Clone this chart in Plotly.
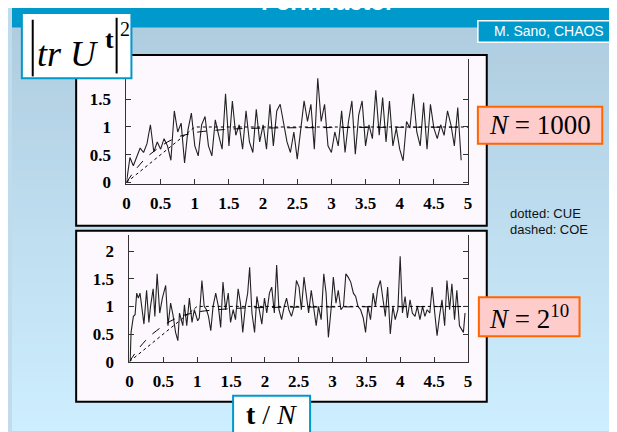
import plotly.graph_objects as go

W, H = 617, 432

# ---------------- data ----------------
# panel 1 (N = 1000): |tr U^t|^2 sampled every 0.05 in t/N
p1_dt = 0.05
p1_vals = [0.00, 0.45, 0.30, 0.48, 0.62, 0.54, 0.70, 1.04, 0.55, 0.73,
           0.60, 0.79, 0.66, 0.40, 1.29, 0.91, 1.07, 0.35, 0.95, 1.25,
           0.66, 0.48, 1.04, 1.19, 0.66, 0.48, 1.13, 0.85, 0.60, 1.60,
           0.66, 1.47, 0.85, 1.04, 0.60, 1.29, 0.73, 0.54, 1.32, 0.73,
           1.04, 0.60, 1.41, 0.66, 1.29, 1.41, 1.10, 0.73, 0.54, 0.91,
           0.42, 0.91, 1.47, 1.10, 1.41, 0.60, 1.88, 1.10, 1.41, 0.66,
           0.54, 0.91, 0.66, 1.29, 0.54, 1.10, 1.47, 0.51, 1.22, 1.47,
           0.66, 1.04, 0.79, 1.66, 0.85, 1.53, 0.73, 1.47, 0.66, 0.98,
           0.60, 0.39, 1.10, 0.98, 1.60, 0.91, 0.66, 1.44, 0.60, 1.41,
           0.98, 0.79, 1.04, 0.85, 1.29, 1.04, 0.66, 1.35, 0.40]
p1_t = [round(i * p1_dt, 3) for i in range(len(p1_vals))]

# panel 2 (N = 2^10)
p2_t = [0.010, 0.024, 0.058, 0.083, 0.107, 0.131, 0.156, 0.180, 0.214, 0.253,
        0.287, 0.311, 0.350, 0.375, 0.409, 0.447, 0.486, 0.535, 0.569, 0.608,
        0.642, 0.681, 0.715, 0.739, 0.788, 0.812, 0.846, 0.885, 0.924, 0.958,
        1.007, 1.031, 1.070, 1.104, 1.138, 1.167, 1.201, 1.235, 1.274, 1.313,
        1.347, 1.381, 1.420, 1.459, 1.493, 1.532, 1.566, 1.605, 1.639, 1.673,
        1.712, 1.746, 1.775, 1.809, 1.848, 1.882, 1.916, 1.955, 1.994, 2.028,
        2.067, 2.101, 2.140, 2.174, 2.208, 2.247, 2.286, 2.320, 2.354, 2.393,
        2.432, 2.466, 2.505, 2.539, 2.578, 2.612, 2.646, 2.685, 2.719, 2.758,
        2.792, 2.831, 2.870, 2.904, 2.938, 2.977, 3.011, 3.050, 3.084, 3.123,
        3.161, 3.196, 3.230, 3.268, 3.307, 3.341, 3.375, 3.414, 3.453, 3.487,
        3.521, 3.560, 3.599, 3.633, 3.667, 3.706, 3.745, 3.779, 3.813, 3.852,
        3.891, 3.925, 3.964, 3.998, 4.032, 4.071, 4.105, 4.144, 4.178, 4.217,
        4.251, 4.290, 4.329, 4.363, 4.397, 4.436, 4.470, 4.509, 4.543, 4.582,
        4.616, 4.655, 4.689, 4.728, 4.762, 4.801, 4.835, 4.874, 4.908, 4.932,
        4.956]
p2_vals = [0.00, 0.53, 0.82, 0.85, 1.24, 1.15, 1.24, 1.00, 0.68, 1.29,
           0.71, 1.00, 1.32, 0.82, 1.59, 0.88, 1.15, 1.38, 0.65, 1.06,
           0.85, 0.53, 0.38, 0.88, 0.65, 1.03, 0.65, 1.15, 0.71, 0.94,
           0.74, 0.79, 1.47, 1.00, 0.94, 0.82, 0.56, 1.00, 1.24, 1.00,
           0.62, 1.44, 0.94, 1.24, 0.71, 0.94, 0.76, 1.32, 1.06, 0.53,
           1.00, 1.24, 1.71, 0.88, 0.53, 1.18, 0.94, 0.68, 1.15, 0.88,
           1.24, 1.35, 0.88, 1.75, 0.94, 0.76, 1.00, 1.15, 0.94, 0.82,
           1.00, 1.47, 1.35, 0.94, 1.53, 1.24, 0.88, 1.29, 1.00, 0.65,
           1.00, 0.76, 1.59, 1.24, 0.44, 0.94, 1.53, 1.06, 1.29, 0.94,
           1.00, 1.59, 1.53, 1.44, 1.24, 1.18, 1.00, 0.94, 0.79, 0.53,
           1.00, 0.76, 1.24, 1.00, 1.32, 1.47, 1.12, 0.82, 1.35, 0.50,
           1.00, 0.76, 0.94, 1.91, 0.88, 1.18, 0.79, 1.12, 0.88, 0.82,
           1.00, 0.76, 1.00, 0.82, 0.94, 0.88, 1.35, 0.94, 0.47, 0.85,
           1.12, 0.65, 1.47, 0.94, 1.41, 0.76, 1.29, 0.65, 0.59, 0.53,
           0.88]

# theory curves
cue_t = [0, 1, 5]
cue_vals = [0, 1, 1]
coe_t = [0, 0.1, 0.2, 0.3, 0.4, 0.5, 0.6, 0.7, 0.8, 0.9, 1.0, 1.5, 2, 3, 4, 5]
coe_vals = [0, 0.18, 0.33, 0.46, 0.56, 0.65, 0.73, 0.79, 0.84, 0.87, 0.90,
            0.96, 0.98, 0.99, 0.995, 0.997]

x_ticks = [0, 0.5, 1, 1.5, 2, 2.5, 3, 3.5, 4, 4.5, 5]
x_ticktext = ['0', '0.5', '1', '1.5', '2', '2.5', '3', '3.5', '4', '4.5', '5']
y1_ticks = [0, 0.5, 1, 1.5]
y1_ticktext = ['0', '0.5', '1', '1.5']
y2_ticks = [0, 0.5, 1, 1.5, 2]
y2_ticktext = ['0', '0.5', '1', '1.5', '2']

# ---------------- helpers ----------------
def px(x):
    return x / W

def py(y):
    return 1 - y / H

fig = go.Figure()

line_col = '#222222'
for xa, ya, t, v in (('x', 'y', p1_t, p1_vals), ('x2', 'y2', p2_t, p2_vals)):
    fig.add_trace(go.Scatter(x=t, y=v, mode='lines', xaxis=xa, yaxis=ya,
                             line=dict(color=line_col, width=1.1), showlegend=False))
    fig.add_trace(go.Scatter(x=cue_t, y=cue_vals, mode='lines', xaxis=xa, yaxis=ya,
                             line=dict(color='black', width=1, dash='dot'), showlegend=False))
    fig.add_trace(go.Scatter(x=coe_t, y=coe_vals, mode='lines', xaxis=xa, yaxis=ya,
                             line=dict(color='black', width=1, dash='dash', shape='spline'),
                             showlegend=False))

tickfont = dict(family='Liberation Serif', size=17, color='black', weight='bold')

def xaxis_cfg(left, right, anchor):
    return dict(domain=[px(left), px(right)], range=[0, 5], anchor=anchor,
                tickmode='array', tickvals=x_ticks, ticktext=x_ticktext,
                ticks='inside', ticklen=5, tickcolor='#333',
                showline=True, linecolor='#333', linewidth=1, mirror=False,
                showgrid=False, zeroline=False, tickfont=tickfont,
                ticklabelstandoff=4, fixedrange=True)

def yaxis_cfg(top, bottom, rng, tickvals, ticktext, anchor):
    return dict(domain=[py(bottom), py(top)], range=rng, anchor=anchor,
                tickmode='array', tickvals=tickvals, ticktext=ticktext,
                ticks='inside', ticklen=5, tickcolor='#333',
                showline=True, linecolor='#333', linewidth=1, mirror='ticks',
                showgrid=False, zeroline=False, tickfont=tickfont,
                ticklabelstandoff=11, fixedrange=True)

shapes = []
# background gradient
top_c = (176, 205, 224)
bot_c = (205, 238, 255)
n = 42
for i in range(n):
    f = i / (n - 1)
    c = tuple(int(round(top_c[k] + (bot_c[k] - top_c[k]) * f)) for k in range(3))
    y0 = 18 + i * (H - 18) / n
    y1 = 18 + (i + 1) * (H - 18) / n + 1
    shapes.append(dict(type='rect', xref='paper', yref='paper', layer='below',
                       x0=0, x1=1, y0=py(y1), y1=py(y0),
                       fillcolor='rgb(%d,%d,%d)' % c, line=dict(width=0)))
# title bar
shapes.append(dict(type='rect', xref='paper', yref='paper', layer='below',
                   x0=0, x1=1, y0=py(20), y1=1.02, fillcolor='#0099cc', line=dict(width=0)))
# panel frames
for (t0, t1) in ((48, 223), (228, 403)):
    shapes.append(dict(type='rect', xref='paper', yref='paper', layer='below',
                       x0=px(65), x1=px(481), y0=py(t1), y1=py(t0),
                       fillcolor='#fdf8fd', line=dict(color='black', width=2)))

def box(x0, x1, y0, y1, fill, border, w=2):
    shapes.append(dict(type='rect', xref='paper', yref='paper', layer='above',
                       x0=px(x0), x1=px(x1), y0=py(y1), y1=py(y0),
                       fillcolor=fill, line=dict(color=border, width=w)))

box(10, 121, 5, 72, 'white', '#0099cc')
box(472, 616, 13, 35, '#0099cc', 'white', 1.5)
box(472, 598, 101, 139, '#ffcccc', '#ff6600')
box(473, 575, 296, 336, '#ffcccc', '#ff6600')
box(224, 302, 397, 445, 'white', '#0099cc')
# absolute value bars
for xb, ya, yb in ((21, 12, 70), (106, 10, 67)):
    shapes.append(dict(type='line', xref='paper', yref='paper', layer='above',
                       x0=px(xb), x1=px(xb), y0=py(yb), y1=py(ya),
                       line=dict(color='black', width=2)))

annotations = []

def text(x, y, s, size, family='Liberation Serif', color='black', xanchor='center'):
    annotations.append(dict(xref='paper', yref='paper', x=px(x), y=py(y), text=s,
                            showarrow=False, xanchor=xanchor, yanchor='middle',
                            font=dict(family=family, size=size, color=color)))

text(320, -7, '<b>Form factor</b>', 24, 'Liberation Sans', 'white')
text(544, 24, 'M. Sano, CHAOS', 14, 'Liberation Sans', 'white')
text(56, 47, '<i>tr U</i>', 36)
text(99, 32, '<b>t</b>', 26)
text(114, 21, '2', 20)
text(535, 120, '<i>N</i> = 1000', 27)
text(524, 316, '<i>N</i> = 2<sup>10</sup>', 27)
text(503, 210, 'dotted: CUE', 13, 'Liberation Sans', '#111', 'left')
text(503, 227, 'dashed: COE', 13, 'Liberation Sans', '#111', 'left')
text(263, 416, '<b>t</b> / <i>N</i>', 28)

fig.update_layout(
    width=W, height=H, margin=dict(l=0, r=0, t=0, b=0),
    paper_bgcolor='#c0dcec', plot_bgcolor='rgba(0,0,0,0)',
    xaxis=xaxis_cfg(116, 462, 'y'),
    yaxis=yaxis_cfg(52, 180, [-0.025, 2.23], y1_ticks, y1_ticktext, 'x'),
    xaxis2=xaxis_cfg(119, 462, 'y2'),
    yaxis2=yaxis_cfg(232, 362, [0, 2.3], y2_ticks, y2_ticktext, 'x2'),
    shapes=shapes, annotations=annotations, showlegend=False,
)

fig.write_html('out.html')
